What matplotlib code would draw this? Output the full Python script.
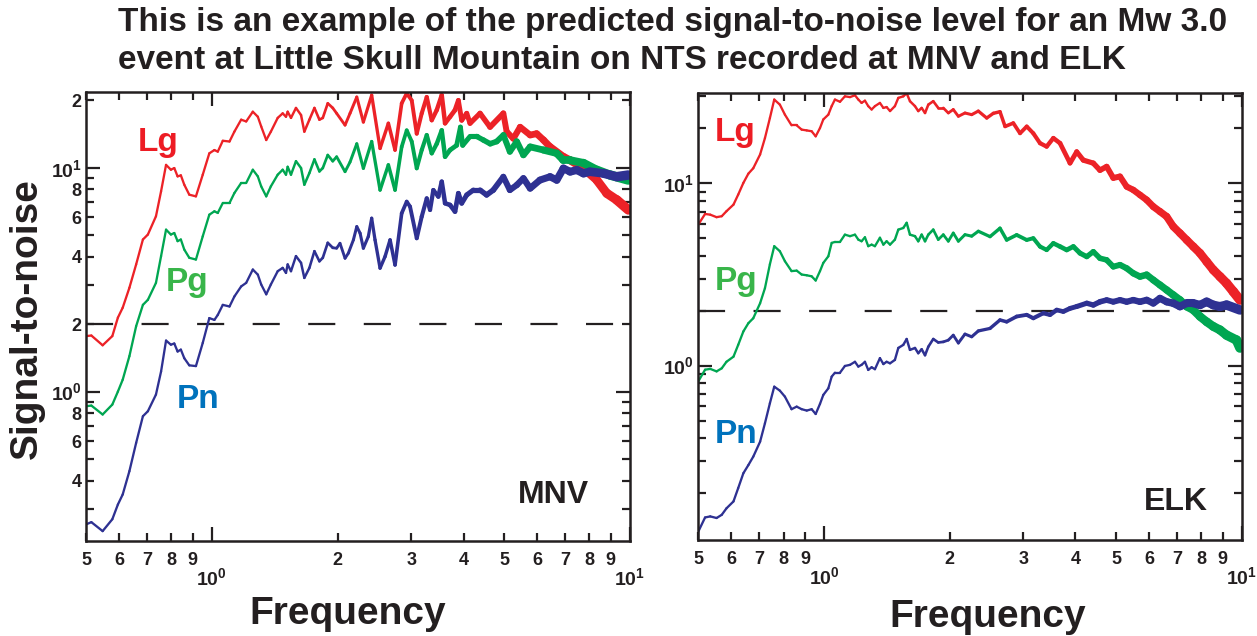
import numpy as np
import matplotlib
matplotlib.use('Agg')
import matplotlib.pyplot as plt
from matplotlib.collections import LineCollection
from matplotlib import font_manager
import matplotlib.transforms as mtransforms

# ---- MNV: shared low-frequency grid, then each phase's high-frequency part ----
mnv_freq = [0.50, 0.515, 0.548, 0.578, 0.596, 0.612, 0.635, 0.659, 0.684, 0.703,
            0.735, 0.756, 0.777, 0.798, 0.813, 0.828, 0.843, 0.859, 0.883, 0.916,
            0.951, 0.986, 1.014, 1.033, 1.062, 1.102, 1.132, 1.175, 1.208, 1.253,
            1.288, 1.312, 1.349, 1.384, 1.437, 1.477, 1.504, 1.518, 1.546, 1.589,
            1.634, 1.664, 1.711, 1.759, 1.808, 1.842, 1.893, 1.946]
mnv_lg = [1.77, 1.78, 1.61, 1.77, 2.14, 2.37, 2.91, 3.70, 4.78, 5.03,
          6.07, 7.85, 10.3, 9.8, 9.97, 9.15, 9.25, 8.40, 7.58, 7.45,
          9.31, 11.6, 12.0, 11.8, 13.2, 13.1, 14.5, 16.4, 16.1, 17.8,
          16.9, 15.3, 13.3, 14.5, 16.7, 17.5, 16.9, 17.8, 16.7, 18.5,
          17.2, 14.5, 16.4, 18.5, 16.4, 16.7, 19.4, 18.5]
mnv_pg = [0.86, 0.866, 0.79, 0.875, 1.00, 1.13, 1.44, 1.96, 2.44, 2.57,
          3.06, 4.03, 5.29, 5.03, 5.11, 4.70, 4.78, 4.31, 3.96, 3.89,
          4.94, 6.17, 6.39, 6.28, 6.96, 6.96, 7.71, 8.55, 8.55, 9.80,
          9.15, 8.26, 7.45, 8.26, 9.31, 9.80, 9.31, 10.1, 9.31, 10.7,
          9.97, 8.40, 9.47, 10.9, 9.63, 9.97, 11.4, 10.7]
mnv_pn = [0.255, 0.261, 0.238, 0.269, 0.313, 0.347, 0.441, 0.590, 0.776, 0.817,
          0.970, 1.23, 1.69, 1.62, 1.64, 1.51, 1.54, 1.41, 1.31, 1.30,
          1.65, 2.13, 2.09, 2.20, 2.44, 2.40, 2.66, 2.95, 3.06, 3.51,
          3.33, 3.01, 2.72, 3.01, 3.45, 3.57, 3.39, 3.70, 3.45, 4.03,
          3.76, 3.22, 3.57, 4.24, 3.82, 3.96, 4.62, 4.39]

mnv_lg_hf = [1.988, 2.082, 2.140, 2.221, 2.303, 2.411, 2.525, 2.643, 2.742, 2.844,
             2.924, 3.006, 3.090, 3.176, 3.265, 3.356, 3.450, 3.546, 3.612, 3.712,
             3.815, 3.886, 3.958, 4.069, 4.144, 4.379, 4.627, 4.978, 5.07, 5.26,
             5.46, 5.77, 5.98, 6.21, 6.44, 6.93, 7.19, 7.74, 8.33, 8.80, 9.30, 9.91]
mnv_lg_hv = [17.5, 15.5, 17.5, 20.7, 16.0, 21.1, 12.2, 15.8, 12.0, 19.4,
             21.5, 20.0, 14.2, 17.5, 20.7, 16.3, 18.1, 21.1, 15.8, 16.9,
             18.1, 20.0, 16.3, 17.5, 15.8, 17.5, 15.2, 17.5, 14.5, 13.5,
             15.2, 14.0, 14.2, 13.3, 12.4, 11.2, 10.8, 9.94, 8.81, 7.69, 7.18, 6.48]
mnv_pg_hf = [1.988, 2.082, 2.140, 2.221, 2.303, 2.411, 2.525, 2.643, 2.742, 2.844,
             2.924, 3.006, 3.090, 3.176, 3.265, 3.356, 3.450, 3.546, 3.612, 3.712,
             3.85, 3.93, 3.98, 4.144, 4.30, 4.46, 4.63, 4.80, 4.98, 5.16,
             5.36, 5.56, 5.77, 6.21, 6.68, 6.93, 7.19, 7.74, 8.33, 8.96, 9.91]
mnv_pg_hv = [11.2, 9.60, 10.6, 12.8, 9.94, 13.1, 7.95, 10.3, 7.95, 12.4,
             14.7, 13.1, 9.94, 12.0, 14.0, 11.6, 12.8, 14.7, 11.2, 12.0,
             12.6, 15.2, 12.6, 13.8, 13.8, 13.3, 12.8, 13.1, 14.0, 11.8,
             13.1, 11.4, 12.4, 12.0, 11.6, 10.8, 10.8, 10.5, 9.77, 9.28, 8.81]
mnv_pn_hf = [1.988, 2.025, 2.082, 2.12, 2.18, 2.221, 2.262, 2.303, 2.367, 2.411,
             2.456, 2.525, 2.595, 2.668, 2.742, 2.844, 2.924, 2.978, 3.090, 3.176,
             3.265, 3.325, 3.386, 3.48, 3.546, 3.612, 3.712, 3.815, 3.886, 3.958,
             4.069, 4.22, 4.379, 4.54, 4.71, 4.978, 5.16, 5.36, 5.56, 5.77,
             6.09, 6.44, 6.68, 6.93, 7.19, 7.46, 7.74, 8.02, 8.64, 9.30, 9.91]
mnv_pn_hv = [4.37, 4.60, 3.94, 4.15, 4.76, 5.46, 5.10, 4.37, 4.93, 5.95,
             4.76, 3.56, 4.01, 4.76, 3.68, 6.26, 7.06, 6.71, 4.84, 6.05,
             7.30, 6.48, 7.95, 7.43, 8.67, 6.94, 6.82, 6.37, 7.69, 6.94,
             7.56, 7.95, 7.95, 7.56, 7.95, 9.12, 7.95, 8.37, 8.97, 8.09,
             8.81, 9.12, 8.81, 9.94, 9.60, 9.77, 9.44, 9.60, 9.44, 9.12, 9.28]

# ---- ELK ----
elk_freq = [0.500, 0.519, 0.534, 0.553, 0.569, 0.584, 0.607, 0.623, 0.641, 0.659,
            0.677, 0.703, 0.722, 0.742, 0.760, 0.784, 0.806, 0.836, 0.860, 0.884,
            0.909, 0.934, 0.955, 0.978, 0.996, 1.024, 1.043, 1.062, 1.092, 1.122,
            1.154, 1.186, 1.208, 1.230, 1.253, 1.276, 1.300, 1.324, 1.361, 1.387,
            1.412, 1.439, 1.478, 1.506, 1.548, 1.577, 1.606, 1.651, 1.681, 1.713,
            1.745, 1.777, 1.826, 1.877, 1.930, 1.984, 2.039, 2.097, 2.175, 2.257, 2.341]
elk_lg = [5.94, 6.79, 6.73, 6.52, 6.60, 7.03, 7.64, 8.67, 10.05, 11.3,
          12.1, 14.4, 17.7, 22.8, 28.8, 27.0, 23.8, 20.8, 20.8, 19.7,
          19.5, 19.3, 18.1, 20.1, 22.4, 23.8, 26.5, 28.8, 28.0, 30.0,
          29.7, 30.4, 28.8, 27.6, 28.4, 26.5, 25.4, 26.5, 27.6, 25.9,
          26.2, 24.9, 26.5, 29.4, 30.0, 31.2, 28.2, 26.5, 24.9, 25.9,
          24.3, 27.0, 28.2, 25.9, 25.9, 24.3, 25.4, 23.3, 24.3, 23.8, 24.9]
elk_pg = [0.82, 0.95, 0.96, 0.93, 0.967, 1.05, 1.12, 1.30, 1.54, 1.71,
          1.82, 2.20, 2.66, 3.60, 4.52, 4.24, 3.74, 3.30, 3.32, 3.16,
          3.13, 3.09, 2.93, 3.30, 3.66, 3.98, 4.71, 4.77, 4.77, 5.23,
          5.13, 5.23, 4.91, 4.81, 5.06, 4.52, 4.61, 4.52, 5.03, 4.61,
          4.81, 4.61, 4.91, 5.57, 5.69, 6.07, 5.23, 5.13, 4.81, 5.23,
          4.81, 5.23, 5.57, 4.91, 5.23, 4.81, 5.34, 4.81, 5.23, 5.13, 5.46]
elk_pn = [0.123, 0.147, 0.149, 0.146, 0.152, 0.165, 0.180, 0.213, 0.257, 0.285,
          0.317, 0.383, 0.483, 0.622, 0.767, 0.729, 0.676, 0.577, 0.596, 0.577,
          0.567, 0.577, 0.543, 0.617, 0.691, 0.751, 0.870, 0.915, 0.915, 0.996,
          1.01, 1.05, 0.988, 1.01, 1.05, 0.947, 0.98, 0.956, 1.10, 1.02,
          1.05, 1.03, 1.075, 1.25, 1.30, 1.40, 1.22, 1.25, 1.17, 1.23,
          1.14, 1.27, 1.40, 1.34, 1.35, 1.38, 1.47, 1.33, 1.49, 1.44, 1.55]

elk_lg_hf = [2.452, 2.543, 2.638, 2.713, 2.839, 2.946, 3.057, 3.170, 3.289, 3.412,
             3.540, 3.673, 3.881, 4.027, 4.176, 4.413, 4.578, 4.750, 4.926, 5.112,
             5.304, 5.500, 5.707, 5.922, 6.142, 6.373, 6.613, 6.858, 7.115, 7.384,
             7.657, 7.945, 8.243, 8.55, 8.87, 9.20, 9.545, 9.906]
elk_lg_hv = [22.8, 24.2, 24.7, 20.5, 21.4, 18.8, 20.5, 18.8, 16.6, 15.9,
             17.7, 16.6, 12.9, 14.9, 13.4, 12.9, 11.8, 12.35, 10.7, 10.9,
             9.59, 9.20, 8.64, 8.11, 7.45, 7.00, 6.57, 5.79, 5.33, 4.89,
             4.50, 4.14, 3.72, 3.35, 3.08, 2.83, 2.55, 2.29]
elk_pg_hf = [2.497, 2.638, 2.737, 2.892, 3.057, 3.170, 3.289, 3.412, 3.540, 3.673,
             3.810, 3.953, 4.101, 4.256, 4.413, 4.578, 4.750, 4.926, 5.112, 5.304,
             5.500, 5.707, 5.922, 6.142, 6.373, 6.613, 6.858, 7.115, 7.384, 7.657,
             7.945, 8.243, 8.55, 8.87, 9.20, 9.72, 9.906]
elk_pg_hv = [5.10, 5.67, 4.89, 5.21, 4.89, 5.00, 4.50, 4.31, 4.69, 4.50,
             4.31, 4.50, 4.14, 3.96, 4.22, 3.88, 3.80, 3.49, 3.57, 3.42,
             3.21, 3.08, 3.15, 2.95, 2.77, 2.60, 2.44, 2.29, 2.11, 2.02,
             1.86, 1.74, 1.64, 1.57, 1.47, 1.38, 1.25]
elk_pn_hf = [2.497, 2.638, 2.737, 2.892, 3.057, 3.170, 3.35, 3.476, 3.606, 3.74,
             3.881, 4.027, 4.256, 4.413, 4.578, 4.750, 4.926, 5.112, 5.304, 5.500,
             5.707, 5.922, 6.142, 6.373, 6.613, 6.858, 7.115, 7.384, 7.657, 7.945,
             8.243, 8.55, 8.87, 9.20, 9.906]
elk_pn_hv = [1.60, 1.78, 1.74, 1.86, 1.90, 1.82, 1.94, 1.90, 2.02, 1.98,
             2.06, 2.11, 2.20, 2.15, 2.24, 2.29, 2.24, 2.29, 2.24, 2.29,
             2.24, 2.29, 2.20, 2.34, 2.24, 2.20, 2.11, 2.20, 2.20, 2.15,
             2.24, 2.15, 2.11, 2.15, 2.02]

title_lines = ['This is an example of the predicted signal-to-noise level for an Mw 3.0',
               'event at Little Skull Mountain on NTS recorded at MNV and ELK']

RED, GREEN, BLUE = '#EC2227', '#00A651', '#2E3192'
LBL_RED, LBL_GREEN, LBL_BLUE = '#ED1C24', '#39B54A', '#0072BC'
INK = '#231F20'
W, H = 1257, 636

names = {f.name for f in font_manager.fontManager.ttflist}
SANS = 'Liberation Sans' if 'Liberation Sans' in names else 'DejaVu Sans'
NARROW = next((n for n in ('Liberation Sans Narrow', 'DejaVu Sans Condensed') if n in names), SANS)

plt.rcParams['font.family'] = [NARROW, 'DejaVu Sans']
plt.rcParams['font.weight'] = 'bold'
plt.rcParams['mathtext.fontset'] = 'custom'
plt.rcParams['mathtext.rm'] = NARROW + ':bold'
plt.rcParams['mathtext.it'] = NARROW + ':bold'
plt.rcParams['mathtext.bf'] = NARROW + ':bold'
plt.rcParams['mathtext.default'] = 'rm'
plt.rcParams['lines.scale_dashes'] = False

fig = plt.figure(figsize=(W / 100, H / 100), dpi=100)


def fx(x):
    return x / W


def fy(y):
    return 1 - y / H


def band(ax, f, v, color):
    # line that widens with frequency, standing in for the dense spectral jitter
    f = np.asarray(f, float)
    v = np.asarray(v, float)
    pts = np.column_stack([f, v])
    segs = np.stack([pts[:-1], pts[1:]], axis=1)
    fm = np.sqrt(f[:-1] * f[1:])
    t = np.clip((np.log10(fm) - 0.1) / 0.9, 0, 1)
    lw = (2.3 + 7.5 * t ** 1.8) * 0.72
    lc = LineCollection(segs, colors=color, linewidths=lw, capstyle='round', joinstyle='round')
    ax.add_collection(lc)


def setup(ax, ylim, ymajor_lbl, yminor, yminor_lbl):
    ax.set_xscale('log')
    ax.set_yscale('log')
    ax.set_xlim(0.5, 10)
    ax.set_ylim(*ylim)
    ax.set_xticks([1, 10])
    ax.set_xticklabels(['', ''])
    xm = [0.5, 0.6, 0.7, 0.8, 0.9, 2, 3, 4, 5, 6, 7, 8, 9]
    ax.set_xticks(xm, minor=True)
    ax.set_xticklabels([str(int(round(x * 10))) if x < 1 else str(x) for x in xm], minor=True)
    ax.set_yticks([1, 10])
    ax.set_yticklabels(ymajor_lbl, fontsize=14)
    ax.set_yticks(yminor, minor=True)
    ax.set_yticklabels(yminor_lbl, minor=True)
    ax.tick_params(which='both', direction='in', top=True, right=True, color=INK,
                   width=1.6, labelcolor=INK)
    ax.tick_params(which='minor', labelsize=13)
    ax.tick_params(which='major', length=10)
    ax.tick_params(which='minor', length=5.5)
    ax.tick_params(axis='x', which='both', pad=8)
    ax.tick_params(axis='y', which='both', pad=3)
    for s in ax.spines.values():
        s.set_linewidth(1.8)
        s.set_color(INK)
    trans = mtransforms.blended_transform_factory(ax.transData, ax.transAxes)
    for xv, lab in [(1, r'$10^{0}$'), (10, r'$10^{1}$')]:
        ax.text(xv, -0.083, lab, transform=trans, ha='center', va='center',
                fontsize=14, color=INK)
    ax.axhline(2, color=INK, lw=1.6, dashes=(19.5, 20.5), zorder=1)


ax1 = fig.add_axes([fx(86), fy(541), fx(630) - fx(86), fy(92) - fy(541)])
ax2 = fig.add_axes([fx(698.3), fy(540), fx(1241.7) - fx(698.3), fy(92.7) - fy(540)])

mnv_minor = [0.3, 0.4, 0.5, 0.6, 0.7, 0.8, 0.9, 2, 3, 4, 5, 6, 7, 8, 9, 20]
mnv_minor_lbl = ['', '4', '', '6', '', '8', '', '2', '', '4', '', '6', '', '8', '', '2']
setup(ax1, (0.215, 21.8), [r'$10^{0}$', r'$10^{1}$'], mnv_minor, mnv_minor_lbl)

elk_minor = [0.2, 0.3, 0.4, 0.5, 0.6, 0.7, 0.8, 0.9, 2, 3, 4, 5, 6, 7, 8, 9, 20, 30]
setup(ax2, (0.1106, 31.4), [r'$10^{0}$', r'$10^{1}$'], elk_minor, [''] * len(elk_minor))

band(ax1, mnv_freq + mnv_lg_hf, mnv_lg + mnv_lg_hv, RED)
band(ax1, mnv_freq + mnv_pg_hf, mnv_pg + mnv_pg_hv, GREEN)
band(ax1, mnv_freq + mnv_pn_hf, mnv_pn + mnv_pn_hv, BLUE)

band(ax2, elk_freq + elk_lg_hf, elk_lg + elk_lg_hv, RED)
band(ax2, elk_freq + elk_pg_hf, elk_pg + elk_pg_hv, GREEN)
band(ax2, elk_freq + elk_pn_hf, elk_pn + elk_pn_hv, BLUE)

# phase and station labels
lbl = dict(family=SANS, weight='bold', va='baseline', ha='left')
for x, y, s, c in [(138, 151, 'Lg', LBL_RED), (166, 291, 'Pg', LBL_GREEN), (177, 408, 'Pn', LBL_BLUE),
                   (715, 141, 'Lg', LBL_RED), (715, 290, 'Pg', LBL_GREEN), (715, 443, 'Pn', LBL_BLUE)]:
    fig.text(fx(x), fy(y), s, color=c, fontsize=24, **lbl)
fig.text(fx(518), fy(503), 'MNV', color=INK, fontsize=23, **lbl)
fig.text(fx(1144), fy(510), 'ELK', color=INK, fontsize=23, **lbl)

fig.text(fx(118), fy(31), title_lines[0], color=INK, fontsize=24, **lbl)
fig.text(fx(118), fy(69), title_lines[1], color=INK, fontsize=24, **lbl)

fig.text(fx(27), fy(319), 'Signal-to-noise', rotation=90, ha='center', va='center',
         family=SANS, weight='bold', fontsize=28, color=INK)
fig.text(fx(348), fy(624), 'Frequency', ha='center', va='baseline',
         family=SANS, weight='bold', fontsize=28, color=INK)
fig.text(fx(988), fy(627), 'Frequency', ha='center', va='baseline',
         family=SANS, weight='bold', fontsize=28, color=INK)

fig.savefig('out.png', dpi=100)
